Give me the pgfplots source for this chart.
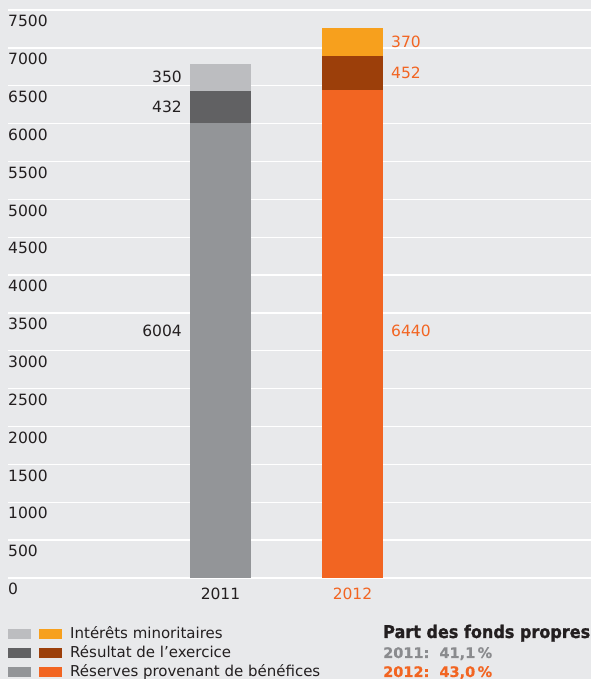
\documentclass[border=0pt]{standalone}
\usepackage{fontspec}
\setmainfont{DejaVu Sans}
\newfontfamily\heavyfont[FakeBold=1.2]{DejaVu Sans Bold}
\newfontfamily\semiheavy[FakeBold=0.5]{DejaVu Sans Bold}
\usepackage{graphicx}
\usepackage{pgfplots}
\pgfplotsset{compat=1.18}
\definecolor{bgc}{RGB}{232,233,235}
\definecolor{txt}{RGB}{35,31,32}
\definecolor{gLight}{RGB}{188,189,192}
\definecolor{gDark}{RGB}{97,97,99}
\definecolor{gMid}{RGB}{147,149,152}
\definecolor{oLight}{RGB}{247,160,29}
\definecolor{oDark}{RGB}{156,63,10}
\definecolor{oMid}{RGB}{242,101,34}
\definecolor{gText}{RGB}{138,139,142}
\newcommand{\fs}{\fontsize{15.5}{18}\selectfont}
\begin{document}
\begin{tikzpicture}[x=1pt,y=1pt]
\useasboundingbox (0,0) rectangle (591,679);
\clip (0,0) rectangle (591,679);
\fill[bgc] (0,0) rectangle (591,679);
\begin{axis}[
  at={(8pt,101pt)}, anchor=south west,
  scale only axis, width=583pt, height=568pt,
  xmin=-1.6098, xmax=2.8068, ymin=0, ymax=7500,
  ytick={0,500,...,7500}, xtick=\empty,
  ymajorgrids, grid style={white, line width=1.3pt},
  axis line style={draw=none}, major tick length=0pt,
  yticklabel style={anchor=north west, inner sep=0pt, yshift=-5pt, font=\fs, text=txt},
  /pgf/number format/assume math mode=true,
  /pgf/number format/1000 sep={},
  ybar stacked, bar width=61pt, clip=false]
\addplot[fill=gMid, draw=none] coordinates {(0,6004) (1,0)};
\addplot[fill=oMid, draw=none] coordinates {(0,0) (1,6440)};
\addplot[fill=gDark, draw=none] coordinates {(0,432) (1,0)};
\addplot[fill=oDark, draw=none] coordinates {(0,0) (1,452)};
\addplot[fill=gLight, draw=none] coordinates {(0,350) (1,0)};
\addplot[fill=oLight, draw=none] coordinates {(0,0) (1,370)};
\node[anchor=east, inner sep=0pt, font=\fs, text=txt, xshift=-38.5pt] at (axis cs:0,6611) {350};
\node[anchor=east, inner sep=0pt, font=\fs, text=txt, xshift=-38.5pt] at (axis cs:0,6220) {432};
\node[anchor=east, inner sep=0pt, font=\fs, text=txt, xshift=-38.5pt] at (axis cs:0,3261) {6004};
\node[anchor=west, inner sep=0pt, font=\fs, text=oMid, xshift=38.5pt] at (axis cs:1,7077) {370};
\node[anchor=west, inner sep=0pt, font=\fs, text=oMid, xshift=38.5pt] at (axis cs:1,6666) {452};
\node[anchor=west, inner sep=0pt, font=\fs, text=oMid, xshift=38.5pt] at (axis cs:1,3261) {6440};
\node[anchor=north, inner sep=0pt, font=\fs, text=txt, yshift=-10pt] at (axis cs:0,0) {2011};
\node[anchor=north, inner sep=0pt, font=\fs, text=oMid, yshift=-10pt] at (axis cs:1,0) {2012};
\end{axis}
% legend
\fill[gLight] (8,40) rectangle (31,50);
\fill[oLight] (39,40) rectangle (62,50);
\fill[gDark] (8,21) rectangle (31,31);
\fill[oDark] (39,21) rectangle (62,31);
\fill[gMid] (8,2) rectangle (31,12);
\fill[oMid] (39,2) rectangle (62,12);
\node[anchor=base west, inner sep=0pt, font=\fontsize{15}{18}\selectfont, text=txt] at (70,40) {Intérêts minoritaires};
\node[anchor=base west, inner sep=0pt, font=\fontsize{15}{18}\selectfont, text=txt] at (70,21) {Résultat de l’exercice};
\node[anchor=base west, inner sep=0pt, font=\fontsize{15}{18}\selectfont, text=txt] at (70,2) {Réserves provenant de bénéfices};
\node[anchor=base west, inner sep=0pt, text=txt] at (383,41) {\resizebox{207pt}{\height}{\fontsize{17.5}{20}\heavyfont Part des fonds propres}};
\node[anchor=base west, inner sep=0pt, font=\fontsize{14.5}{18}\semiheavy, text=gText] at (383,21) {2011:\ \ 41,1\,\%};
\node[anchor=base west, inner sep=0pt, font=\fontsize{14.5}{18}\semiheavy, text=oMid] at (383,2) {2012:\ \ 43,0\,\%};
\end{tikzpicture}
\end{document}
